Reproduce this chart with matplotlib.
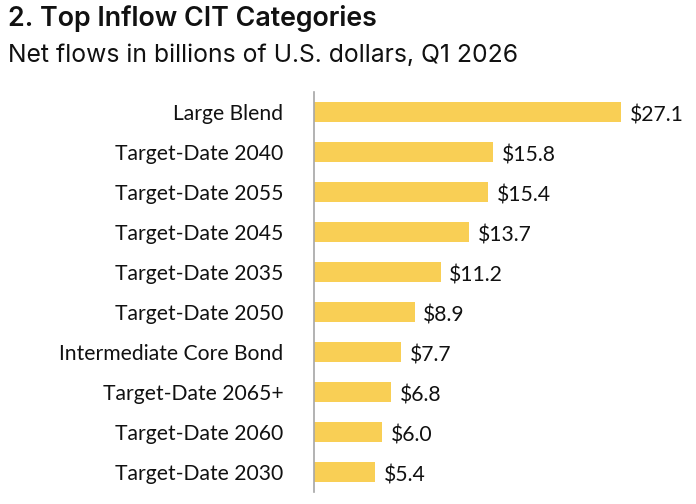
import matplotlib.pyplot as plt

categories = ["Large Blend", "Target-Date 2040", "Target-Date 2055", "Target-Date 2045",
              "Target-Date 2035", "Target-Date 2050", "Intermediate Core Bond",
              "Target-Date 2065+", "Target-Date 2060", "Target-Date 2030"]
flows = [27.1, 15.8, 15.4, 13.7, 11.2, 8.9, 7.7, 6.8, 6.0, 5.4]

plt.rcParams['font.family'] = ['Lato', 'DejaVu Sans']

fig = plt.figure(figsize=(6.96, 5.04), dpi=100)
ax = fig.add_axes([314/696, 12/504, 382/696, 400/504])

pos = list(range(len(categories)))
ax.barh(pos, flows, height=0.48, color="#F9CF55")
for p, v in zip(pos, flows):
    ax.text(v + 0.75, p + 0.08, "$%.1f" % v, va="center", ha="left", fontsize=15.2, color="#111111")

ax.set_ylim(9.5, -0.5)
ax.set_xlim(0, 382/11.33)
ax.set_yticks(pos)
ax.set_yticklabels(categories, fontsize=15.2, color="#111111")
ax.tick_params(axis="y", length=0, pad=22)
ax.set_xticks([])
for s in ["top", "right", "bottom"]:
    ax.spines[s].set_visible(False)
ax.spines["left"].set_color("#A6A6A6")
ax.spines["left"].set_linewidth(1.2)

fig.text(8/696, 1 - 19/504, "2. Top Inflow CIT Categories", fontsize=19.3, fontweight="semibold",
         family=["Inter", "DejaVu Sans"], va="center", ha="left", color="#111111")
fig.text(8/696, 1 - 55/504, "Net flows in billions of U.S. dollars, Q1 2026", fontsize=17.8,
         family=["Inter", "DejaVu Sans"], va="center", ha="left", color="#111111")

fig.savefig("out.png", dpi=100)
